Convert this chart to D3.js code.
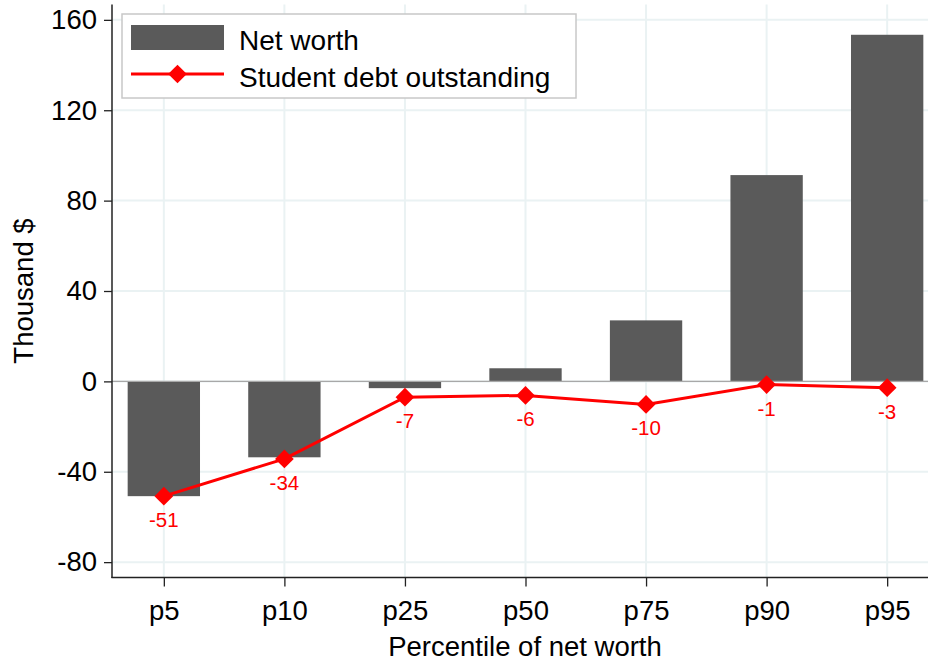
<!DOCTYPE html>
<html>
<head>
<meta charset="utf-8">
<title>Net worth and student debt</title>
<style>
body {
  margin: 0;
  background: #fff;
  font-family: "Liberation Sans", Helvetica, Arial, sans-serif;
}
svg { display: block; }
.axis text { font-size: 27.5px; fill: #000; }
.axis line { stroke: #222; stroke-width: 1.3; }
.axis path { display: none; }
.grid line { stroke: #eaf2f3; stroke-width: 2; }
</style>
</head>
<body>
<svg width="928" height="665"></svg>
<script src="https://cdn.jsdelivr.net/npm/d3@7/dist/d3.min.js"></script>
<script>

// values in thousand $
var percentiles = ["p5", "p10", "p25", "p50", "p75", "p90", "p95"];
var netWorth = [-50.8, -33.6, -3.0, 5.8, 27.0, 91.3, 153.4];
var studentDebt = [-50.8, -34.3, -7.0, -6.2, -10.2, -1.4, -2.8];
var yTicks = [-80, -40, 0, 40, 80, 120, 160];

var width = 928,
    height = 665,
    plotLeft = 112,
    plotTop = 4.5,
    plotBottom = 577.5;

// plain hyphen for negatives, like the original
var locale = d3.formatLocale({
  decimal: ".", thousands: ",", grouping: [3], currency: ["$", ""], minus: "-"
});
var fmt = locale.format(".0f");

var svg = d3.select("svg");

var x = d3.scalePoint()
    .domain(percentiles)
    .range([plotLeft, 939])
    .padding(0.43);

var y = d3.scaleLinear()
    .domain([-86.8, 166.8])
    .range([plotBottom, plotTop]);

var barW = x.step() * 0.6;

// gridlines
svg.append("g").attr("class", "grid")
  .selectAll("line")
    .data(yTicks)
  .enter().append("line")
    .attr("x1", plotLeft).attr("x2", width)
    .attr("y1", function(d) { return y(d); })
    .attr("y2", function(d) { return y(d); });

svg.append("g").attr("class", "grid")
  .selectAll("line")
    .data(percentiles)
  .enter().append("line")
    .attr("x1", function(d) { return x(d); })
    .attr("x2", function(d) { return x(d); })
    .attr("y1", plotTop).attr("y2", plotBottom);

// bars
svg.append("g")
  .selectAll("rect")
    .data(netWorth)
  .enter().append("rect")
    .attr("x", function(d, i) { return x(percentiles[i]) - barW / 2; })
    .attr("width", barW)
    .attr("y", function(d) { return y(Math.max(0, d)); })
    .attr("height", function(d) { return Math.abs(y(d) - y(0)); })
    .style("fill", "#5a5a5a");

// zero line
svg.append("line")
    .attr("x1", plotLeft).attr("x2", width)
    .attr("y1", y(0)).attr("y2", y(0))
    .style("stroke", "#a8a8a8")
    .style("stroke-width", 1.3);

// student debt line
var line = d3.line()
    .x(function(d, i) { return x(percentiles[i]); })
    .y(function(d) { return y(d); });

svg.append("path")
    .datum(studentDebt)
    .attr("d", line)
    .style("fill", "none")
    .style("stroke", "#ff0000")
    .style("stroke-width", 3);

var diamond = d3.symbol(d3.symbolSquare, 175);

svg.append("g")
  .selectAll("path")
    .data(studentDebt)
  .enter().append("path")
    .attr("d", diamond)
    .attr("transform", function(d, i) {
      return "translate(" + x(percentiles[i]) + "," + y(d) + ") rotate(45)";
    })
    .style("fill", "#ff0000");

svg.append("g")
  .selectAll("text")
    .data(studentDebt)
  .enter().append("text")
    .attr("x", function(d, i) { return x(percentiles[i]); })
    .attr("y", function(d) { return y(d) + 31; })
    .attr("text-anchor", "middle")
    .style("font-size", "20.5px")
    .style("fill", "#ff0000")
    .text(function(d) { return fmt(d); });

// axes
svg.append("g")
    .attr("class", "axis")
    .attr("transform", "translate(" + plotLeft + ",0)")
    .call(d3.axisLeft(y).tickValues(yTicks).tickFormat(fmt)
      .tickSize(8).tickPadding(7).tickSizeOuter(0));

svg.append("g")
    .attr("class", "axis")
    .attr("transform", "translate(0," + plotBottom + ")")
    .call(d3.axisBottom(x).tickSize(9).tickPadding(14).tickSizeOuter(0));

svg.append("line")
    .attr("x1", plotLeft).attr("x2", plotLeft)
    .attr("y1", plotTop).attr("y2", plotBottom + 0.6)
    .style("stroke", "#222").style("stroke-width", 1.5);

svg.append("line")
    .attr("x1", plotLeft - 0.6).attr("x2", width)
    .attr("y1", plotBottom).attr("y2", plotBottom)
    .style("stroke", "#222").style("stroke-width", 1.5);

// axis titles
svg.append("text")
    .attr("x", 525)
    .attr("y", 656)
    .attr("text-anchor", "middle")
    .style("font-size", "27.5px")
    .text("Percentile of net worth");

svg.append("text")
    .attr("transform", "translate(33,291) rotate(-90)")
    .attr("text-anchor", "middle")
    .style("font-size", "27.5px")
    .text("Thousand $");

// legend
var legend = svg.append("g");

legend.append("rect")
    .attr("x", 122).attr("y", 14)
    .attr("width", 454).attr("height", 84)
    .style("fill", "#fff")
    .style("stroke", "#c8c8c8")
    .style("stroke-width", 1.5);

legend.append("rect")
    .attr("x", 131).attr("y", 25)
    .attr("width", 93).attr("height", 25)
    .style("fill", "#5a5a5a");

legend.append("line")
    .attr("x1", 131).attr("x2", 224)
    .attr("y1", 74).attr("y2", 74)
    .style("stroke", "#ff0000")
    .style("stroke-width", 3);

legend.append("path")
    .attr("d", diamond)
    .attr("transform", "translate(177.5,74) rotate(45)")
    .style("fill", "#ff0000");

legend.append("text")
    .attr("x", 239).attr("y", 50)
    .style("font-size", "28px")
    .text("Net worth");

legend.append("text")
    .attr("x", 239).attr("y", 86.5)
    .style("font-size", "28px")
    .text("Student debt outstanding");

</script>
</body>
</html>
